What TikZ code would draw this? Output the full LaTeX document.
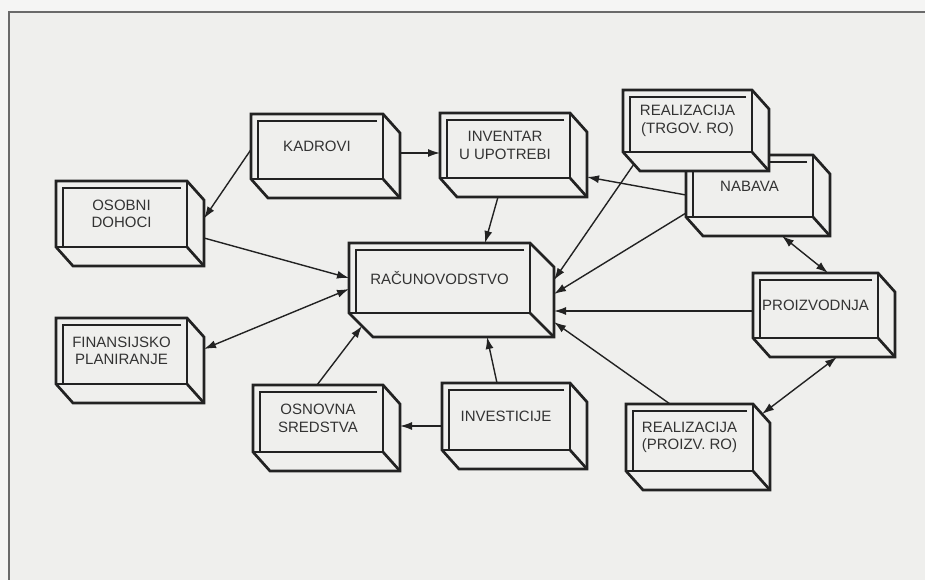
\documentclass[tikz,border=0pt]{standalone}
\usepackage{fontspec}
\setmainfont{Liberation Sans}
\usetikzlibrary{arrows.meta,calc}

\definecolor{paper}{HTML}{EFEFED}
\definecolor{margin}{HTML}{F5F5F4}
\definecolor{ink}{HTML}{222222}
\definecolor{textink}{HTML}{333333}
\definecolor{framegray}{HTML}{6A6A6A}

\tikzset{
  boxline/.style={draw=ink, fill=paper, line width=2.7pt, line join=miter},
  boxedge/.style={draw=ink, line width=2.7pt},
  boxinner/.style={draw=ink, line width=1.3pt},
  boxtext/.style={inner sep=0pt, outer sep=0pt, align=center, text=textink,
    font=\fontsize{15}{17.5}\selectfont},
  boxhull/.style={inner sep=0pt, outer sep=0pt, anchor=north west},
  tipend/.tip={Latex[length=12pt,width=8pt]},
  arr/.style={draw=ink, line width=1.4pt, -tipend},
  dbl/.style={draw=ink, line width=1.4pt, tipend-tipend},
}

% \cubox{name}{x}{y}{w}{h}{dx}{dy}{label}: an extruded box, front face at (x,y) of size w x h
\newcommand{\cubox}[8]{%
  \path[boxline] (#2,#3) -- ++(#4,0) -- ++(#6,#7) -- ++(0,#5) -- ++(-#4,0) -- ++(-#6,-#7) -- cycle;
  \draw[boxedge] (#2+#4,#3) -- ++(0,#5) -- ++(-#4,0);
  \draw[boxedge] (#2+#4,#3+#5) -- ++(#6,#7);
  \draw[boxinner] (#2+#4-6,#3+7) -- (#2+7,#3+7) -- (#2+7,#3+#5);
  \node[boxtext, minimum width=#4pt, minimum height=#5pt] (#1) at (#2+#4/2,#3+#5/2) {#8};
  \node[boxhull, minimum width={#4pt+#6pt}, minimum height={#5pt+#7pt}] (#1-o) at (#2,#3) {};
}

\begin{document}
\begin{tikzpicture}[x=1pt,y=-1pt]
  \useasboundingbox (0,0) rectangle (925,580);
  \fill[margin] (0,0) rectangle (925,580);
  \fill[paper] (9,12) rectangle (925,580);
  % page frame
  \draw[framegray, line width=2pt] (9,580) -- (9,12) -- (925,12);

  % boxes
  \cubox{kad}{251}{114}{132}{65}{17}{19}{KADROVI}
  \cubox{inv}{440}{113}{130}{65}{17}{19}{INVENTAR\\U UPOTREBI}
  \cubox{osob}{56}{181}{131}{66}{17}{19}{OSOBNI\\DOHOCI}
  \cubox{fin}{56}{318}{131}{66}{17}{19}{FINANSIJSKO\\PLANIRANJE}
  \cubox{rac}{349}{243}{181}{70}{24}{24}{RAČUNOVODSTVO}
  \cubox{nab}{686}{155}{127}{62}{17}{19}{NABAVA}
  \cubox{trg}{623}{90}{129}{62}{17}{19}{REALIZACIJA\\(TRGOV. RO)}
  \cubox{pro}{753}{273}{125}{65}{17}{19}{PROIZVODNJA}
  \cubox{prz}{626}{404}{127}{67}{17}{19}{REALIZACIJA\\(PROIZV. RO)}
  \cubox{osn}{253}{385}{130}{67}{17}{19}{OSNOVNA\\SREDSTVA}
  \cubox{ivs}{442}{383}{128}{67}{17}{19}{INVESTICIJE}

  % connectors
  \draw[arr] ([yshift=3pt]kad-o.east) -- ([yshift=2pt]inv-o.west);
  \draw[arr] ([yshift=-3pt]kad.west) -- ([yshift=5pt]osob-o.east);
  \draw[arr] ([yshift=-14.5pt]osob-o.east) -- (rac.west);
  \draw[dbl] ([yshift=11.5pt]fin-o.east) -- ([yshift=-11pt]rac.west);
  \draw[arr] ([xshift=-15.5pt]inv-o.south) -- ([xshift=45.5pt]rac.north);
  \draw[arr] ([xshift=-1pt]osn.north) -- ($(rac.south west)+(13,13)$);
  \draw[arr] ([xshift=-9pt]ivs.north) -- ([xshift=35.5pt]rac-o.south);
  \draw[arr] ([yshift=-9.5pt]ivs.west) -- ([yshift=2pt]osn-o.east);
  \draw[arr] ([yshift=-9pt]nab.west) -- ([yshift=-22pt]inv-o.east);
  \draw[arr] ($(trg.south west)+(11,12)$) -- ([yshift=10pt]rac-o.east);
  \draw[arr] ([yshift=-27pt]nab.west) -- ([yshift=-4pt]rac-o.east);
  \draw[arr] ([yshift=-5.5pt]pro.west) -- ([yshift=-21pt]rac-o.east);
  \draw[arr] ([xshift=-19.5pt]prz.north) -- ([yshift=-32pt]rac-o.east);
  \draw[dbl] ([xshift=24pt]nab-o.south) -- ([xshift=12.5pt]pro.north);
  \draw[dbl] ([xshift=13pt]pro-o.south) -- ($(prz.north east)+(9,10)$);
\end{tikzpicture}
\end{document}
